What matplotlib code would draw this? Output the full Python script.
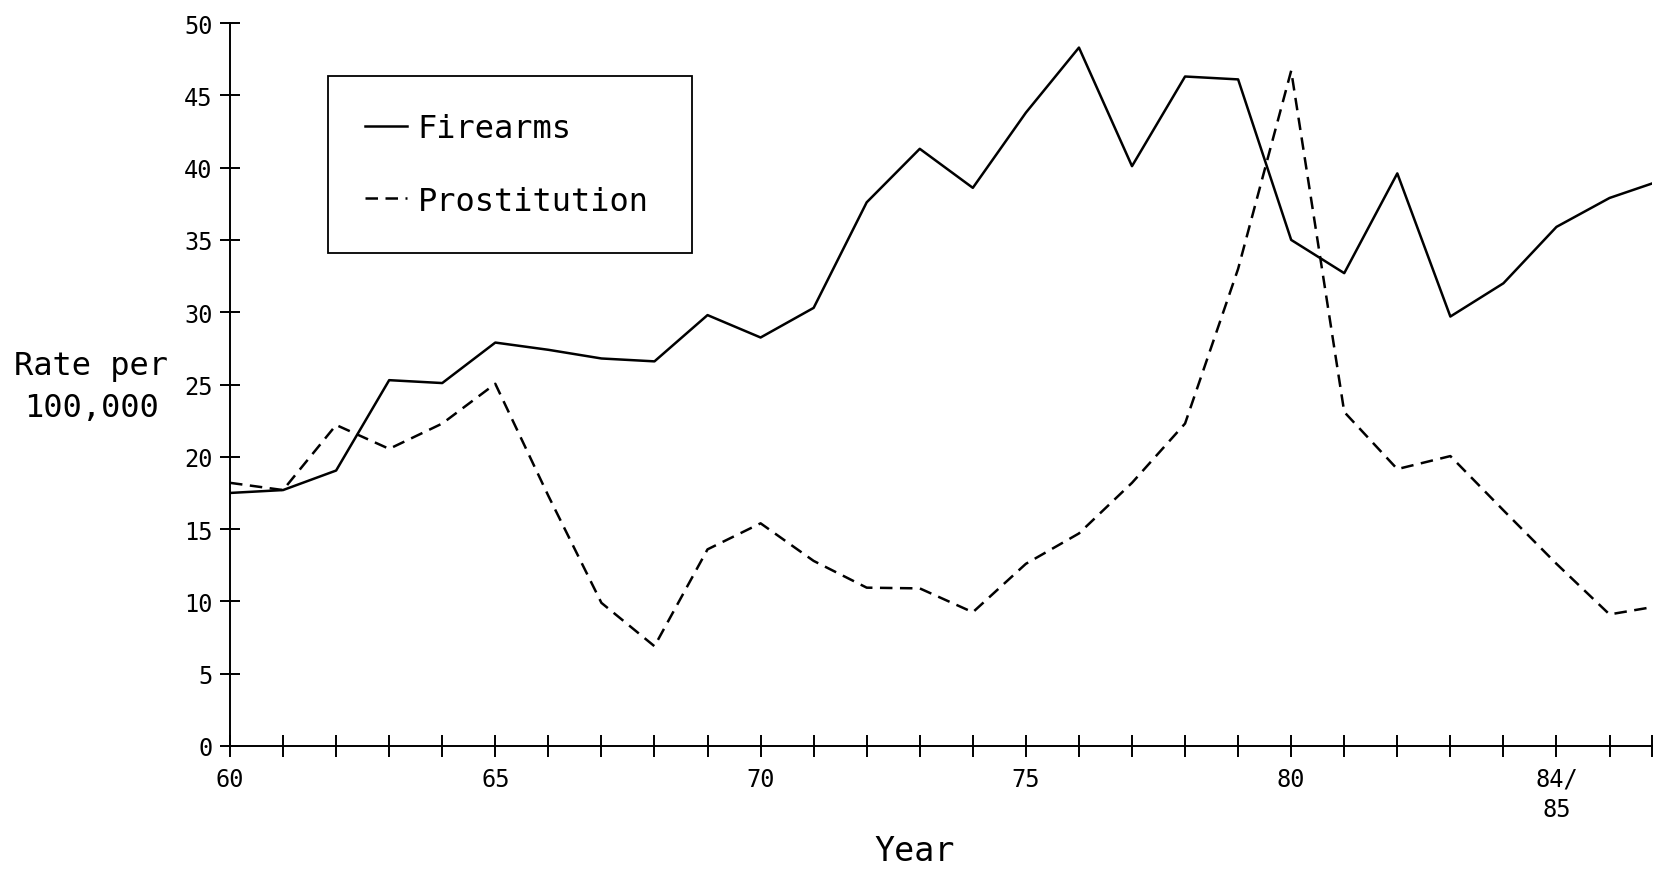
import matplotlib
matplotlib.use("Agg")
import matplotlib.pyplot as plt

# ---- data ----
x_pos = [0, 1, 2, 3, 4, 5, 6, 7, 8, 9, 10, 11, 12, 13, 14, 15, 16, 17, 18, 19,
         20, 21, 22, 23, 24, 25, 26, 26.8]
firearms = [17.5, 17.7, 19.05, 25.3, 25.1, 27.9, 27.4, 26.8, 26.6, 29.8, 28.25,
            30.3, 37.6, 41.3, 38.6, 43.8, 48.3, 40.1, 46.3, 46.1, 35.0, 32.7,
            39.6, 29.7, 32.0, 35.9, 37.9, 38.9]
prostitution = [18.2, 17.7, 22.2, 20.55, 22.3, 25.05, 17.3, 9.9, 6.9, 13.6, 15.4,
                12.8, 10.95, 10.9, 9.25, 12.6, 14.7, 18.2, 22.3, 33.0, 46.7, 23.1,
                19.15, 20.05, 16.3, 12.6, 9.1, 9.6]
series_labels = ["Firearms", "Prostitution"]
x_label_pos = [0, 5, 10, 15, 20, 25]
x_label_text = ["60", "65", "70", "75", "80", "84/\n85"]
x_minor_pos = [1, 2, 3, 4, 6, 7, 8, 9, 11, 12, 13, 14, 16, 17, 18, 19,
               21, 22, 23, 24, 26, 26.8]
y_ticks = [0, 5, 10, 15, 20, 25, 30, 35, 40, 45, 50]
y_label = "Rate per\n100,000"
x_label = "Year"

MONO = "DejaVu Sans Mono"
plt.rcParams["font.family"] = [MONO, "DejaVu Sans"]

fig = plt.figure(figsize=(16.61, 8.70), dpi=100)
fig.patch.set_facecolor("white")
ax = fig.add_axes([0.13847, 0.14138, 0.8561, 0.83103])

ax.plot(x_pos, firearms, color="black", lw=1.8, ls="-", label=series_labels[0])
ax.plot(x_pos, prostitution, color="black", lw=1.8, ls=(0, (5, 3)),
        label=series_labels[1])

ax.set_xlim(0, 26.8)
ax.set_ylim(0, 50)

for s in ("top", "right"):
    ax.spines[s].set_visible(False)
for s in ("left", "bottom"):
    ax.spines[s].set_linewidth(1.4)
    ax.spines[s].set_color("black")

ax.set_xticks(x_label_pos)
ax.set_xticklabels(x_label_text)
ax.set_xticks(x_minor_pos, minor=True)
ax.tick_params(axis="x", which="both", direction="inout", length=16, width=1.4,
               color="black", pad=7, labelsize=17)
for t in ax.get_xticklabels():
    t.set_multialignment("center")
    t.set_linespacing(1.35)

ax.set_yticks(y_ticks)
ax.set_yticklabels([str(v) for v in y_ticks])
ax.tick_params(axis="y", direction="inout", length=15, width=1.4, pad=5.0,
               labelsize=17, color="black")

leg = ax.legend(loc="upper left",
                bbox_to_anchor=(0.1975, 0.5, 0.2191, 0.4115),
                bbox_transform=fig.transFigure, mode="expand",
                borderaxespad=0, frameon=True, fancybox=False,
                handlelength=1.32, handletextpad=0.33, borderpad=1.15,
                labelspacing=1.31, prop={"family": MONO, "size": 23})
frame = leg.get_frame()
frame.set_edgecolor("black")
frame.set_linewidth(1.3)
frame.set_alpha(1)

fig.text(0.0548, 0.555, y_label, ha="center", va="center",
         multialignment="center", fontsize=23, family=MONO, linespacing=1.45)
fig.text(0.5509, 0.010, x_label, ha="center", va="baseline", fontsize=24,
         family=MONO)

fig.savefig("out.png", dpi=100, facecolor="white")
